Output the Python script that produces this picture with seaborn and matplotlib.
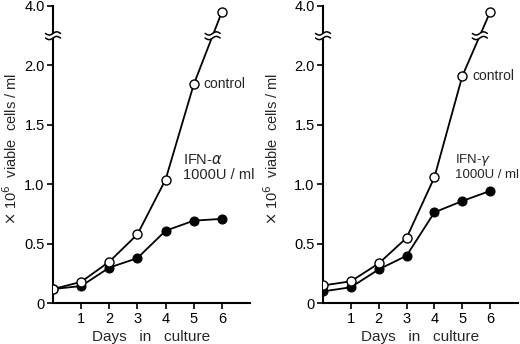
import numpy as np
import pandas as pd
import matplotlib
matplotlib.use("Agg")
import matplotlib.pyplot as plt
from matplotlib.patches import Polygon
import seaborn as sns

sns.set_style("ticks")
plt.rcParams['font.family'] = ['Liberation Sans', 'DejaVu Sans']

days = [0, 1, 2, 3, 4, 5, 6]
control_a = [0.12, 0.18, 0.35, 0.58, 1.04, 1.84, 3.95]
ifn_alpha = [0.12, 0.145, 0.30, 0.38, 0.61, 0.695, 0.71]
control_g = [0.15, 0.185, 0.335, 0.55, 1.06, 1.91, 3.95]
ifn_gamma = [0.10, 0.135, 0.285, 0.40, 0.765, 0.86, 0.945]

ytick_vals = [0, 0.5, 1.0, 1.5, 2.0, 4.0]
ytick_labels = ["0", "0.5", "1.0", "1.5", "2.0", "4.0"]
xtick_vals = [1, 2, 3, 4, 5, 6]
panel_labels = ["IFN-$\\it{\\alpha}$\n1000U / ml", "IFN-$\\it{\\gamma}$\n1000U / ml"]

BREAK_LO, BREAK_HI = 2.25, 3.75


def fwd(v):
    v = np.asarray(v, dtype=float)
    return np.where(v <= BREAK_LO, v, np.where(v >= BREAK_HI, v - (BREAK_HI - BREAK_LO), BREAK_LO))


def inv(d):
    d = np.asarray(d, dtype=float)
    return np.where(d <= BREAK_LO, d, d + (BREAK_HI - BREAK_LO))


W, H = 520, 344
fig = plt.figure(figsize=(W / 100, H / 100), dpi=100)
ax_px = [(53, 197), (323, 195)]
ax_h = 297.3
axes = [fig.add_axes([x0 / W, 1 - 303.3 / H, w / W, ax_h / H]) for x0, w in ax_px]


def break_mark(ax, w_px, xdata, ydisp):
    fx = xdata / 7.0
    fy = ydisp / 2.5
    t = np.linspace(-7.5, 7.5, 60)
    amp = 1.6
    gap = 2.3
    wave = amp * np.sin(2 * np.pi * t / 15.0)
    upper = wave + gap
    lower = wave - gap
    xs = fx + t / w_px
    poly = np.column_stack([np.concatenate([xs, xs[::-1]]),
                            np.concatenate([fy + upper / ax_h, fy + lower[::-1] / ax_h])])
    ax.add_patch(Polygon(poly, closed=True, transform=ax.transAxes, fc="white",
                         ec="none", clip_on=False, zorder=9))
    for yy in (upper, lower):
        ax.plot(xs, fy + yy / ax_h, transform=ax.transAxes, color="black",
                lw=1.1, clip_on=False, zorder=10)


panels = [(control_a, ifn_alpha, panel_labels[0], (4.62, 1.14), 5.33, -0.17, 10.5),
          (control_g, ifn_gamma, panel_labels[1], (4.74, 1.15), 5.38, -0.215, 9.5)]

for ax, (x0, w_px), (ctrl, ifn, lab, pos, cx, lx, fs) in zip(axes, ax_px, panels):
    df = pd.DataFrame({"day": days, "control": ctrl, "ifn": ifn})
    sns.lineplot(data=df, x="day", y="ifn", ax=ax, color="black", lw=1.3,
                 marker="o", markersize=6.5, markerfacecolor="black",
                 markeredgecolor="black", zorder=3)
    sns.lineplot(data=df, x="day", y="control", ax=ax, color="black", lw=1.3,
                 marker="o", markersize=6.5, markerfacecolor="white",
                 markeredgecolor="black", markeredgewidth=1.0, zorder=4)
    ax.set_yscale("function", functions=(fwd, inv))
    ax.set_xlim(0, 7)
    ax.set_ylim(0, 4.0)
    ax.set_yticks(ytick_vals)
    ax.set_yticklabels(ytick_labels)
    ax.set_xticks(xtick_vals)
    ax.set_xticklabels([str(v) for v in xtick_vals])
    ax.minorticks_off()
    ax.tick_params(axis="both", direction="out", length=4, width=1.2,
                   labelsize=10.5, colors="black", pad=2)
    for s in ["top", "right"]:
        ax.spines[s].set_visible(False)
    for s in ["left", "bottom"]:
        ax.spines[s].set_linewidth(1.5)
        ax.spines[s].set_color("black")
    ax.set_xlabel("Days   in   culture", fontsize=11, labelpad=3)
    ax.set_ylabel("$\\times$ 10$^6$  viable  cells / ml", fontsize=10.5)
    ax.yaxis.set_label_coords(lx, 0.52)
    ax.set_facecolor("white")

    ax.text(cx, ctrl[5], "control", fontsize=10, va="center", ha="left")
    ax.text(pos[0], pos[1], lab, fontsize=fs, va="center", ha="left",
            linespacing=1.05)

    break_mark(ax, w_px, 0, BREAK_LO)
    d5, d6 = float(fwd(ctrl[5])), float(fwd(ctrl[6]))
    xb = 5 + (BREAK_LO - d5) / (d6 - d5)
    break_mark(ax, w_px, xb, BREAK_LO)

fig.savefig("out.png", dpi=100, facecolor="white")
